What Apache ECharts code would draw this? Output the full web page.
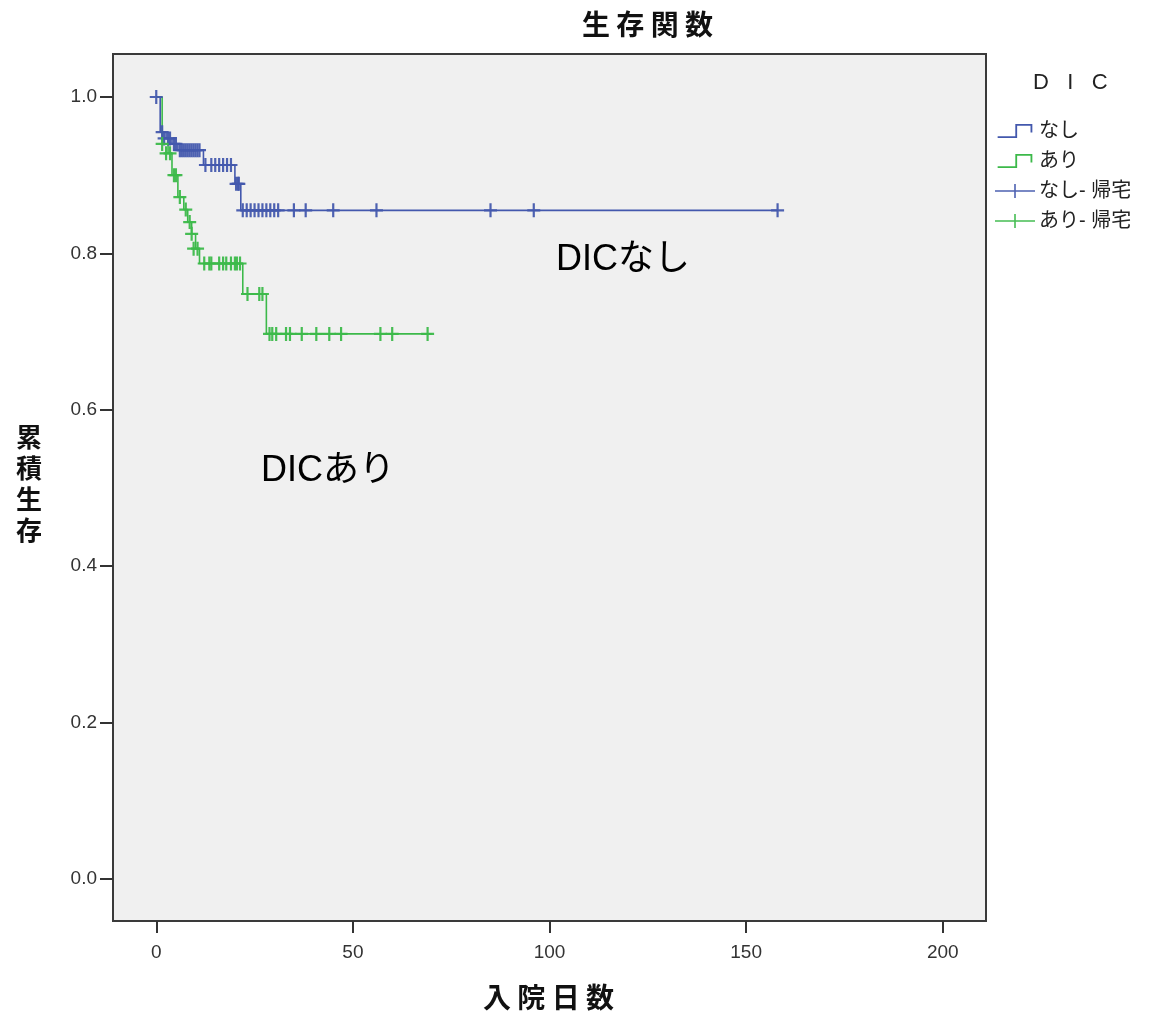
<!DOCTYPE html>
<html lang="ja">
  <head>
    <meta charset="utf-8" />
    <title>生存関数</title>
    <style>
      html, body { margin: 0; padding: 0; background: #fff; }
      #chart-container { width: 1149px; height: 1018px; }
    </style>
  </head>
  <body>
    <div id="chart-container"></div>
    <script src="https://cdn.jsdelivr.net/npm/echarts@6/dist/echarts.min.js"></script>
    <script>
      // Kaplan-Meier steps: [day, cumulative survival]
      var nashiSteps = [[0, 1.0], [1, 0.955], [2.5, 0.947], [4, 0.94], [5.5, 0.932], [12, 0.913],
        [20, 0.889], [21.5, 0.855], [158, 0.855]];
      var ariSteps = [[0, 1.0], [1.5, 0.94], [3, 0.928], [4, 0.9], [5.5, 0.872], [7, 0.856], [8, 0.84],
        [9, 0.825], [10, 0.806], [11, 0.787], [22, 0.748], [28, 0.697], [70, 0.697]];

      // censored (帰宅) marks
      var nashiCensor = [[0, 1.0], [1.5, 0.955], [2, 0.947], [3, 0.947], [3.5, 0.947], [4.5, 0.94], [5, 0.94],
        [6, 0.932], [6.5, 0.932], [7, 0.932], [7.5, 0.932], [8, 0.932], [8.5, 0.932], [9, 0.932], [9.5, 0.932],
        [10, 0.932], [10.5, 0.932], [11, 0.932], [12.5, 0.913], [14, 0.913], [15, 0.913], [16, 0.913],
        [17, 0.913], [18, 0.913], [19, 0.913], [20.3, 0.889], [20.8, 0.889], [21, 0.889], [22, 0.855],
        [23, 0.855], [24, 0.855], [25, 0.855], [26, 0.855], [27, 0.855], [28, 0.855], [29, 0.855], [30, 0.855],
        [31, 0.855], [35, 0.855], [38, 0.855], [45, 0.855], [56, 0.855], [85, 0.855], [96, 0.855], [158, 0.855]];
      var ariCensor = [[1.5, 0.94], [2.5, 0.928], [3.5, 0.928], [4.5, 0.9], [5, 0.9], [6, 0.872], [7.5, 0.856],
        [8.5, 0.84], [9, 0.825], [9.5, 0.806], [10.5, 0.806], [12.2, 0.787], [13.5, 0.787], [14, 0.787],
        [16, 0.787], [17, 0.787], [17.8, 0.787], [19, 0.787], [20, 0.787], [20.5, 0.787], [21.3, 0.787],
        [23.2, 0.748], [26.2, 0.748], [27, 0.748], [28.8, 0.697], [29.5, 0.697], [30.5, 0.697], [33, 0.697],
        [34, 0.697], [37, 0.697], [40.7, 0.697], [44, 0.697], [47, 0.697], [57, 0.697], [60, 0.697], [69, 0.697]];

      var xTicks = [0, 50, 100, 150, 200];
      var yTicks = [0, 0.2, 0.4, 0.6, 0.8, 1.0];

      var blue = "#4358ad";
      var green = "#3cb94a";
      var plusPath = "path://M5.4,0h2.2v14h-2.2z M0,5.9h13v2.2h-13z";
      var stepIcon = "path://M0,11h16v1.5h-16z M14.5,1h1.5v11h-1.5z M14.5,1h14v1.5h-14z M27,1h1.5v7h-1.5z";
      var plusIcon = "path://M0,6.2h40v1.6h-40z M19.2,0h1.6v14h-1.6z";
      var font = "'Liberation Sans', Arial, sans-serif";
      var jp = "'Noto Sans CJK JP', sans-serif";

      var dom = document.getElementById("chart-container");
      var myChart = echarts.init(dom, null, { renderer: "canvas" });

      function stepSeries(name, data, color) {
        return {
          name: name,
          type: "line",
          step: "end",
          data: data,
          symbol: "none",
          lineStyle: { color: color, width: 1.6 },
          itemStyle: { color: color },
          silent: true,
          z: 2
        };
      }
      function censorSeries(name, data, color) {
        return {
          name: name,
          type: "scatter",
          data: data,
          symbol: plusPath,
          symbolSize: [13, 14],
          itemStyle: { color: color, opacity: 0.95 },
          silent: true,
          z: 3
        };
      }

      var option = {
        animation: false,
        backgroundColor: "#fff",
        grid: {
          left: 113, right: 163, top: 54, bottom: 97,
          show: true, backgroundColor: "#f0f0f0",
          borderColor: "#3a3a3a", borderWidth: 2
        },
        xAxis: {
          type: "value", min: -11, max: 211,
          axisLine: { show: false, onZero: false },
          splitLine: { show: false },
          axisTick: { show: true, length: 12, customValues: xTicks, lineStyle: { color: "#333", width: 2 } },
          axisLabel: { customValues: xTicks, color: "#333", fontSize: 19, fontFamily: font, margin: 22 }
        },
        yAxis: {
          type: "value", min: -0.054, max: 1.055,
          axisLine: { show: false, onZero: false },
          splitLine: { show: false },
          axisTick: { show: true, length: 13, customValues: yTicks, lineStyle: { color: "#333", width: 2 } },
          axisLabel: {
            customValues: yTicks, color: "#333", fontSize: 19, fontFamily: font, margin: 16,
            formatter: function (v) { return v.toFixed(1); }
          }
        },
        legend: {
          orient: "vertical",
          left: 990, top: 116,
          itemWidth: 42, itemHeight: 14, itemGap: 10,
          textStyle: { fontSize: 20, color: "#222", fontFamily: font + ", " + jp, padding: [0, 0, 0, -2] },
          selectedMode: false,
          data: [
            { name: "なし", icon: stepIcon, itemStyle: { color: blue } },
            { name: "あり", icon: stepIcon, itemStyle: { color: green } },
            { name: "なし- 帰宅", icon: plusIcon, itemStyle: { color: blue } },
            { name: "あり- 帰宅", icon: plusIcon, itemStyle: { color: green } }
          ]
        },
        graphic: [
          { type: "text", left: 582, top: 10, style: { text: "生 存 関 数", font: "bold 28px " + jp, fill: "#111" } },
          { type: "text", left: 1033, top: 72, style: { text: "D   I   C", font: "22px " + font, fill: "#222" } },
          { type: "text", left: 16, top: 422, style: { text: "累\n積\n生\n存", font: "bold 26px " + jp, lineHeight: 31, fill: "#111" } },
          { type: "text", left: 483, top: 983, style: { text: "入 院 日 数", font: "bold 28px " + jp, fill: "#111" } },
          { type: "text", left: 556, top: 242, style: { text: "DICなし", font: "36px " + font + ", " + jp, fill: "#000" } },
          { type: "text", left: 261, top: 453, style: { text: "DICあり", font: "36px " + font + ", " + jp, fill: "#000" } }
        ],
        series: [
          stepSeries("なし", nashiSteps, blue),
          stepSeries("あり", ariSteps, green),
          censorSeries("なし- 帰宅", nashiCensor, blue),
          censorSeries("あり- 帰宅", ariCensor, green)
        ]
      };
      myChart.setOption(option);
      window.addEventListener("resize", myChart.resize);
    </script>
  </body>
</html>
